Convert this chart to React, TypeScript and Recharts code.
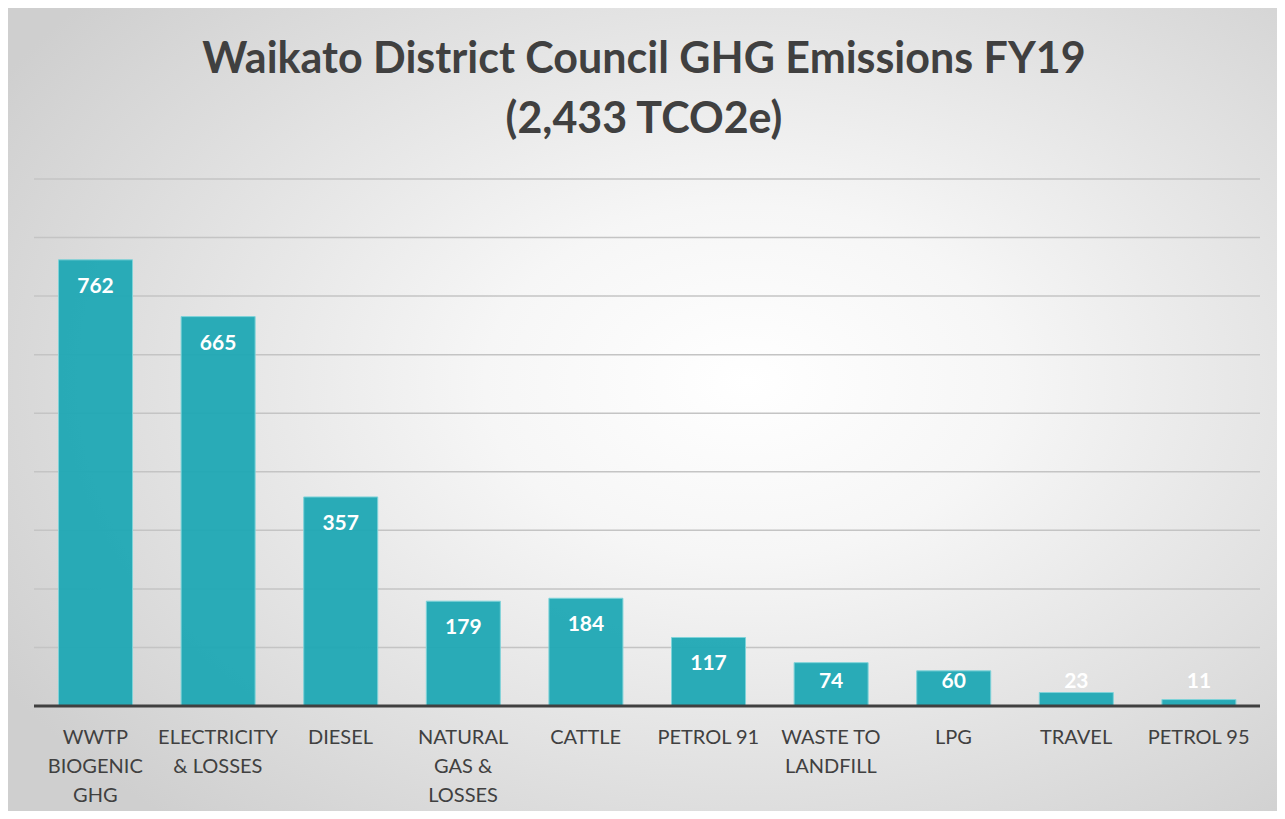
import { Bar, BarChart, CartesianGrid, LabelList, XAxis, YAxis } from "recharts"

const categories = [
  "WWTP\nBIOGENIC\nGHG",
  "ELECTRICITY\n& LOSSES",
  "DIESEL",
  "NATURAL\nGAS &\nLOSSES",
  "CATTLE",
  "PETROL 91",
  "WASTE TO\nLANDFILL",
  "LPG",
  "TRAVEL",
  "PETROL 95",
]
const emissions = [762, 665, 357, 179, 184, 117, 74, 60, 23, 11]
const yTicks = [0, 100, 200, 300, 400, 500, 600, 700, 800, 900]

const chartData = categories.map((name, i) => ({ name, value: emissions[i] }))

const font = "Lato, 'Open Sans', sans-serif"
const textColor = "#404040"

function CategoryTick({ x, y, payload }: any) {
  const lines = String(payload.value).split("\n")
  return (
    <text x={x} y={y + 30} textAnchor="middle" fill={textColor} fontSize={20} fontFamily={font}>
      {lines.map((line, i) => (
        <tspan key={i} x={x} dy={i === 0 ? 0 : 29}>
          {line}
        </tspan>
      ))}
    </text>
  )
}

// Excel "inside end" labels: sit near the bar top, but never lower than a fixed line above the axis
function ValueLabel({ x, y, width, height, value }: any) {
  const base = y + height
  const cy = Math.min(y + 26, base - 25)
  return (
    <text
      x={x + width / 2}
      y={cy}
      dy={7}
      textAnchor="middle"
      fill="#ffffff"
      fontSize={21}
      fontWeight={700}
      fontFamily={font}
    >
      {value}
    </text>
  )
}

export default function App() {
  return (
    <div style={{ margin: -8, width: 1285, height: 819, background: "#ffffff", position: "relative" }}>
      <div
        style={{
          position: "absolute",
          left: 3,
          top: 7,
          width: 1282,
          height: 812,
          borderTop: "1px solid #c8c8c8",
          boxSizing: "border-box",
          background: "radial-gradient(ellipse 68% 72% at 58% 46%, #ffffff 0%, #f6f6f6 30%, #cfcfcf 100%)",
        }}
      >
        <div
          style={{
            position: "absolute",
            left: 0,
            top: 19,
            width: 1282,
            textAlign: "center",
            fontFamily: font,
            fontWeight: 700,
            fontSize: 43,
            lineHeight: "60px",
            color: textColor,
          }}
        >
          Waikato District Council GHG Emissions FY19
          <br />
          (2,433 TCO2e)
        </div>
        <BarChart
          width={1282}
          height={812}
          data={chartData}
          margin={{ top: 171, right: 25, bottom: 0, left: 31 }}
          barCategoryGap="20%"
        >
          <CartesianGrid vertical={false} stroke="#c4c4c4" strokeWidth={1.5} />
          <YAxis hide domain={[0, 900]} ticks={yTicks} />
          <XAxis
            dataKey="name"
            interval={0}
            height={114}
            tick={<CategoryTick />}
            tickLine={false}
            axisLine={{ stroke: "#404040", strokeWidth: 3 }}
          />
          <Bar dataKey="value" fill="#1fa8b4" fillOpacity={0.95} stroke="#7fd3d9" strokeWidth={1} isAnimationActive={false}>
            <LabelList dataKey="value" content={<ValueLabel />} />
          </Bar>
        </BarChart>
      </div>
    </div>
  )
}
